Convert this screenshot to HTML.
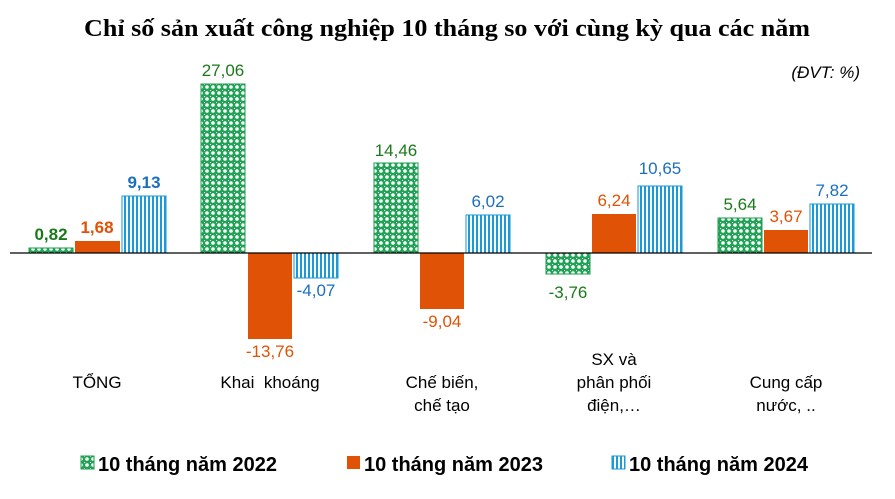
<!DOCTYPE html><html><head><meta charset="utf-8"><style>body{margin:0;background:#fff}svg{display:block}</style></head><body>
<svg width="895" height="499" xmlns="http://www.w3.org/2000/svg" font-family="Liberation Sans, Arial, sans-serif">
<defs>
<pattern id="g" width="6" height="6" patternUnits="userSpaceOnUse"><rect width="6" height="6" fill="#22a256"/><circle cx="3" cy="3" r="1.8" fill="#fff"/><rect x="0" y="0" width="1" height="1" fill="#fff"/></pattern>
<pattern id="b" width="4" height="4" patternUnits="userSpaceOnUse"><rect width="4" height="4" fill="#fff"/><rect width="2" height="4" fill="#1a9ad6"/></pattern>
</defs>
<text x="84" y="36" textLength="726" lengthAdjust="spacingAndGlyphs" font-family="Liberation Serif, serif" font-weight="bold" font-size="24">Chỉ số sản xuất công nghiệp 10 tháng so với cùng kỳ qua các năm</text>
<text x="860" y="78" text-anchor="end" font-style="italic" font-size="17">(ĐVT: %)</text>
<g font-size="17" text-anchor="middle">
<rect x="29" y="248" width="44" height="5" fill="url(#g)" stroke="#1e9e4e"/>
<rect x="75" y="241" width="45" height="12" fill="#e05206"/>
<rect x="122" y="196" width="44" height="57" fill="url(#b)" stroke="#1a9ad6"/>
<text x="51" y="240" fill="#1a7a1a" font-weight="bold">0,82</text>
<text x="97" y="233" fill="#e05206" font-weight="bold">1,68</text>
<text x="144" y="188" fill="#1a6fbf" font-weight="bold">9,13</text>
<rect x="201" y="84" width="44" height="169" fill="url(#g)" stroke="#1e9e4e"/>
<rect x="248" y="253" width="44" height="86" fill="#e05206"/>
<rect x="294" y="253" width="44" height="25" fill="url(#b)" stroke="#1a9ad6"/>
<text x="223" y="76" fill="#1a7a1a">27,06</text>
<text x="270" y="357" fill="#e05206">-13,76</text>
<text x="316" y="296" fill="#1a6fbf">-4,07</text>
<rect x="374" y="163" width="44" height="90" fill="url(#g)" stroke="#1e9e4e"/>
<rect x="420" y="253" width="44" height="56" fill="#e05206"/>
<rect x="466" y="215" width="44" height="38" fill="url(#b)" stroke="#1a9ad6"/>
<text x="396" y="156" fill="#1a7a1a">14,46</text>
<text x="442" y="327" fill="#e05206">-9,04</text>
<text x="488" y="207" fill="#1a6fbf">6,02</text>
<rect x="546" y="253" width="44" height="21" fill="url(#g)" stroke="#1e9e4e"/>
<rect x="592" y="214" width="44" height="39" fill="#e05206"/>
<rect x="638" y="186" width="44" height="67" fill="url(#b)" stroke="#1a9ad6"/>
<text x="568" y="298" fill="#1a7a1a">-3,76</text>
<text x="614" y="206" fill="#e05206">6,24</text>
<text x="660" y="174" fill="#1a6fbf">10,65</text>
<rect x="718" y="218" width="44" height="35" fill="url(#g)" stroke="#1e9e4e"/>
<rect x="764" y="230" width="44" height="23" fill="#e05206"/>
<rect x="810" y="204" width="44" height="49" fill="url(#b)" stroke="#1a9ad6"/>
<text x="740" y="210" fill="#1a7a1a">5,64</text>
<text x="786" y="222" fill="#e05206">3,67</text>
<text x="832" y="196" fill="#1a6fbf">7,82</text>
</g>
<line x1="10" y1="253" x2="872" y2="253" stroke="#000" stroke-width="1.2"/>
<g font-size="17" text-anchor="middle" fill="#000">
<text x="97" y="388">TỔNG</text>
<text x="270" y="388">Khai&#160; khoáng</text>
<text x="442" y="388">Chế biến,</text><text x="442" y="411">chế tạo</text>
<text x="614" y="365">SX và</text><text x="614" y="388">phân phối</text><text x="614" y="411">điện,…</text>
<text x="786" y="388">Cung cấp</text><text x="786" y="411">nước, ..</text>
</g>
<g font-size="20" font-weight="bold">
<rect x="81" y="456" width="13" height="13" fill="url(#g)" stroke="#1e9e4e"/>
<text x="98" y="471">10 tháng năm 2022</text>
<rect x="347" y="456" width="13" height="13" fill="#e05206"/>
<text x="364" y="471">10 tháng năm 2023</text>
<rect x="612" y="456" width="13" height="13" fill="url(#b)" stroke="#1a9ad6"/>
<text x="629" y="471">10 tháng năm 2024</text>
</g>
</svg></body></html>
